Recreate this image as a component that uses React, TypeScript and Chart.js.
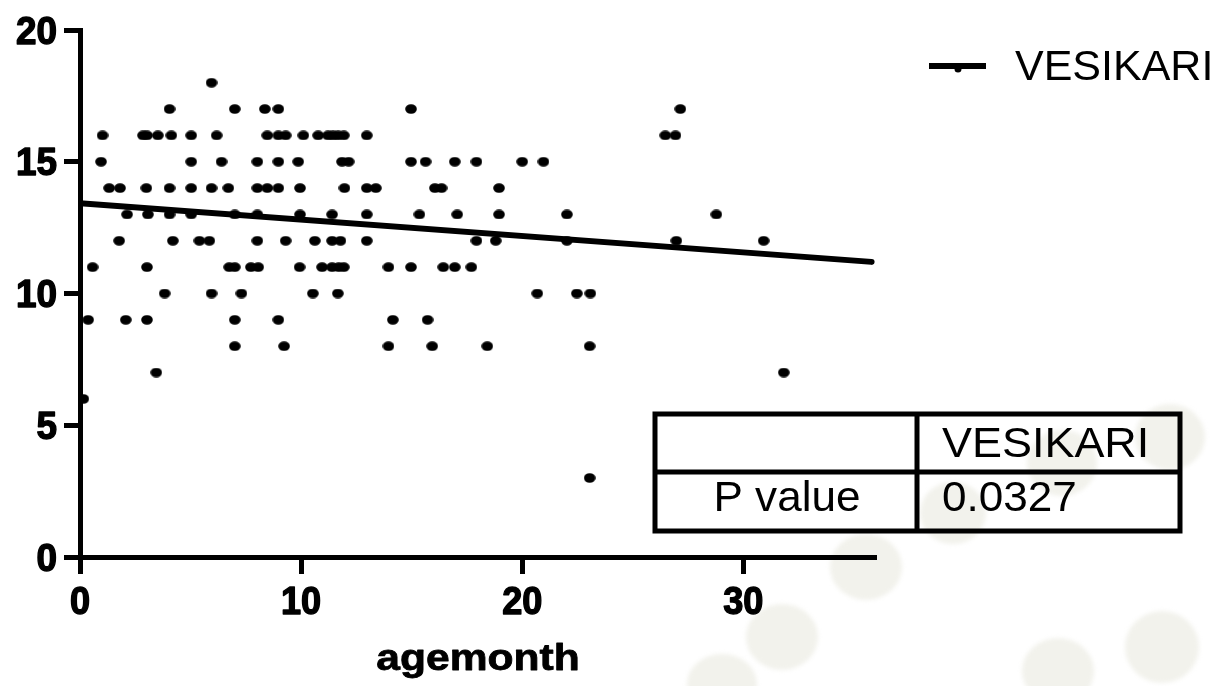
import React, { useEffect, useRef } from "react";
import { Chart, registerables } from "chart.js";

Chart.register(...registerables);

// ---- data (age in months per VESIKARI score) ----
const score18 = [5.95];
const score17 = [4.05, 7.0, 8.36, 8.97, 14.97, 27.15];
const score16 = [1.02, 2.85, 3.03, 3.52, 4.13, 5.03, 6.18, 8.47, 8.97, 9.3, 10.1, 10.77, 11.22, 11.44, 11.67, 11.93, 12.97, 26.47, 26.93];
const score15 = [0.95, 5.03, 6.4, 8.02, 8.97, 9.87, 11.85, 12.15, 14.97, 15.63, 16.95, 17.93, 20.0, 20.96];
const score14 = [1.32, 1.81, 3.0, 4.05, 5.03, 5.95, 6.71, 8.02, 8.47, 8.97, 9.95, 11.96, 12.97, 13.38, 16.05, 16.35, 18.95];
const score13 = [2.13, 3.07, 4.05, 5.03, 7.0, 8.02, 9.95, 11.4, 12.97, 15.35, 17.06, 18.95, 22.02, 28.78];
const score12 = [1.77, 4.2, 5.4, 5.85, 8.02, 9.3, 10.62, 11.4, 11.78, 12.97, 17.93, 18.8, 22.02, 26.97, 30.92];
const score11 = [0.57, 3.03, 6.75, 7.0, 7.73, 8.06, 9.93, 10.95, 11.4, 11.7, 11.93, 13.95, 14.97, 16.43, 16.95, 17.7];
const score10 = [3.83, 5.95, 7.3, 10.53, 11.66, 20.68, 22.47, 23.08];
const score9 = [0.37, 2.07, 3.03, 7.0, 8.97, 14.15, 15.72];
const score8 = [7.0, 9.23, 13.95, 15.93, 18.42, 23.05];
const score7 = [3.45, 31.83];
const score6 = [0.15];
const score3 = [23.05];

const scoreRows: [number, number[]][] = [
  [18, score18], [17, score17], [16, score16], [15, score15], [14, score14],
  [13, score13], [12, score12], [11, score11], [10, score10], [9, score9],
  [8, score8], [7, score7], [6, score6], [3, score3],
];

// linear regression line (start / end)
const fitAge = [0, 35.8];
const fitScore = [13.43, 11.2];

const xTicks = [0, 10, 20, 30];
const yTicks = [0, 5, 10, 15, 20];
const seriesName = "VESIKARI";
const xTitle = "agemonth";
const tableHeader = ["", "VESIKARI"];
const tableValues = ["P value", "0.0327"];

const FONT = '"Liberation Sans", Arial, sans-serif';

function stretchedText(
  ctx: CanvasRenderingContext2D, text: string, x: number, y: number, font: string,
  sx: number, align: "left" | "center" | "right", embolden = 0,
) {
  ctx.save();
  ctx.font = font;
  ctx.fillStyle = "#000";
  ctx.strokeStyle = "#000";
  ctx.textBaseline = "alphabetic";
  const w = ctx.measureText(text).width * sx;
  const left = align === "center" ? x - w / 2 : align === "right" ? x - w : x;
  ctx.translate(left, y);
  ctx.scale(sx, 1);
  ctx.textAlign = "left";
  ctx.fillText(text, 0, 0);
  if (embolden > 0) {
    ctx.lineWidth = embolden;
    ctx.lineJoin = "round";
    ctx.strokeText(text, 0, 0);
  }
  ctx.restore();
}

const backdropPlugin = {
  id: "backdrop",
  beforeDraw(chart: any) {
    const ctx = chart.ctx as CanvasRenderingContext2D;
    ctx.save();
    ctx.fillStyle = "#fff";
    ctx.fillRect(0, 0, chart.width, chart.height);
    const spots = [
      [1170, 437, 35, 33], [1062, 463, 35, 33], [953, 513, 33, 31], [866, 567, 36, 33],
      [782, 637, 36, 33], [1058, 671, 36, 33], [1162, 647, 37, 36], [722, 684, 35, 30],
    ];
    ctx.filter = "blur(2px)";
    ctx.fillStyle = "#f2f2ec";
    for (const [cx, cy, rx, ry] of spots) {
      ctx.beginPath();
      ctx.ellipse(cx, cy, rx, ry, 0, 0, Math.PI * 2);
      ctx.fill();
    }
    ctx.restore();
  },
};

const overlayPlugin = {
  id: "overlay",
  afterDraw(chart: any) {
    const ctx = chart.ctx as CanvasRenderingContext2D;
    const area = chart.chartArea;
    const xs = chart.scales.x;
    const ys = chart.scales.y;
    const tickF = `bold 38px ${FONT}`;

    // tick labels, positioned with the chart's scales
    for (const v of yTicks) {
      stretchedText(ctx, String(v), 57, ys.getPixelForValue(v) + 13.5, tickF, 0.97, "right", 1.4);
    }
    for (const v of xTicks) {
      stretchedText(ctx, String(v), xs.getPixelForValue(v), 614, tickF, 0.95, "center", 1.4);
    }

    // x axis title
    stretchedText(ctx, xTitle, (area.left + area.right) / 2, 670, `bold 37px ${FONT}`, 1.15, "center", 0.8);

    // legend
    ctx.save();
    ctx.strokeStyle = "#000";
    ctx.lineWidth = 6;
    ctx.beginPath();
    ctx.moveTo(929, 66);
    ctx.lineTo(986, 66);
    ctx.stroke();
    ctx.beginPath();
    ctx.arc(958, 69, 3.5, 0, Math.PI * 2);
    ctx.fillStyle = "#000";
    ctx.fill();
    ctx.restore();
    stretchedText(ctx, seriesName, 1015, 80, `43px ${FONT}`, 1.0, "left");

    // results table
    const L = 655, T = 414, R = 1180, B = 531, M = 472, D = 917;
    ctx.save();
    ctx.strokeStyle = "#000";
    ctx.lineWidth = 5;
    ctx.strokeRect(L, T, R - L, B - T);
    ctx.beginPath();
    ctx.moveTo(L, M);
    ctx.lineTo(R, M);
    ctx.moveTo(D, T);
    ctx.lineTo(D, B);
    ctx.stroke();
    ctx.restore();
    const f = `42px ${FONT}`;
    if (tableHeader[0]) stretchedText(ctx, tableHeader[0], (L + D) / 2, 456, f, 1.06, "center");
    stretchedText(ctx, tableHeader[1], 942, 457, f, 1.07, "left");
    stretchedText(ctx, tableValues[0], 787, 511, f, 1.05, "center");
    stretchedText(ctx, tableValues[1], 942, 511, f, 1.05, "left");
  },
};

export default function App() {
  const ref = useRef<HTMLCanvasElement | null>(null);

  useEffect(() => {
    if (!ref.current) return;
    const dot = document.createElement("canvas");
    dot.width = 12;
    dot.height = 10;
    const dc = dot.getContext("2d")!;
    dc.fillStyle = "#000";
    dc.beginPath();
    dc.ellipse(6, 5, 5.8, 4.8, 0, 0, Math.PI * 2);
    dc.fill();

    const points: { x: number; y: number }[] = [];
    for (const [score, ages] of scoreRows) {
      for (const a of ages) points.push({ x: a, y: score });
    }
    const fit = fitAge.map((a, i) => ({ x: a, y: fitScore[i] }));

    const chart = new Chart(ref.current, {
      type: "scatter",
      data: {
        datasets: [
          {
            label: seriesName,
            data: points,
            pointStyle: dot as any,
            pointRadius: 6,
            backgroundColor: "#000",
            borderColor: "#000",
          },
          {
            label: "fit",
            type: "line",
            data: fit,
            showLine: true,
            borderColor: "#000",
            borderWidth: 6,
            borderCapStyle: "round",
            pointRadius: 0,
            fill: false,
          } as any,
        ],
      },
      options: {
        responsive: false,
        animation: false,
        events: [],
        layout: { padding: { top: 30, right: 343, left: 0, bottom: 0 } },
        plugins: { legend: { display: false }, tooltip: { enabled: false } },
        scales: {
          x: {
            type: "linear",
            min: 0,
            max: 36,
            afterBuildTicks: (s: any) => {
              s.ticks = xTicks.map((v) => ({ value: v }));
            },
            afterFit: (s: any) => {
              s.height = 129;
            },
            ticks: { display: false },
            grid: { drawOnChartArea: false, drawTicks: true, tickLength: 17, tickWidth: 5, tickColor: "#000" },
            border: { display: true, width: 5, color: "#000" },
          },
          y: {
            type: "linear",
            min: 0,
            max: 20,
            afterBuildTicks: (s: any) => {
              s.ticks = yTicks.map((v) => ({ value: v }));
            },
            afterFit: (s: any) => {
              s.width = 80;
            },
            ticks: { display: false },
            grid: { drawOnChartArea: false, drawTicks: true, tickLength: 16, tickWidth: 5, tickColor: "#000" },
            border: { display: true, width: 5, color: "#000" },
          },
        },
      },
      plugins: [backdropPlugin, overlayPlugin],
    });
    return () => chart.destroy();
  }, []);

  return (
    <div style={{ position: "fixed", left: 0, top: 0, width: 1219, height: 686, background: "#fff" }}>
      <canvas ref={ref} width={1219} height={686} style={{ display: "block" }} />
    </div>
  );
}
